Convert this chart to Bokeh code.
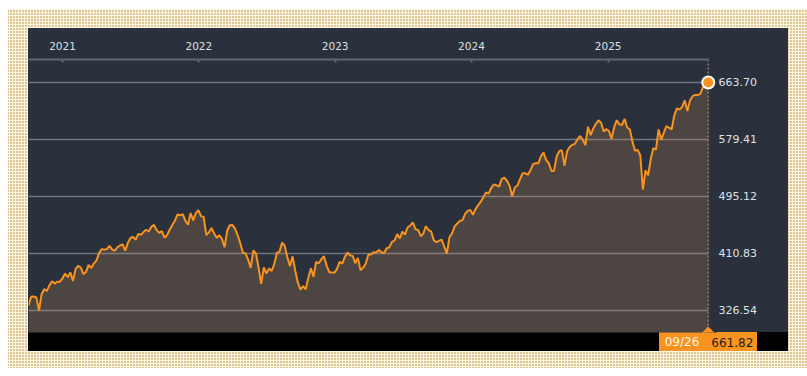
import numpy as np
import pandas as pd
from bokeh.plotting import figure
from bokeh.models import (Range1d, FixedTicker, DatetimeTickFormatter, PrintfTickFormatter,
                          Span, BoxAnnotation, Label, ColumnDataSource)
from bokeh.embed import file_html
from bokeh.resources import INLINE

# ---------------- data (weekly closes) ----------------
END_DATE = "2025-09-26"
prices_2020 = [333.8, 346.8, 347.3, 345.8, 326.5, 350.2, 358.1, 355.3, 363.7, 369.9,
               366.3, 369.2, 369.0, 373.9]
prices_2021 = [381.3, 375.7, 382.9, 370.1, 387.7, 392.6, 390.0, 380.4, 383.6, 394.1,
               389.5, 396.0, 400.6, 411.5, 417.3, 416.7, 417.3, 422.1, 416.6, 414.9,
               420.0, 422.6, 424.3, 414.9, 426.6, 433.7, 435.5, 431.3, 439.9, 438.5,
               442.5, 445.9, 443.4, 450.3, 453.1, 445.4, 441.4, 443.9, 434.2, 437.9,
               446.0, 453.1, 459.3, 468.5, 467.3, 468.9, 459.0, 453.4, 470.7, 459.9,
               470.6, 475.0]
prices_2022 = [466.1, 464.7, 438.0, 442.0, 448.7, 440.5, 434.2, 437.8, 432.2, 420.1,
               444.5, 452.7, 452.9, 447.6, 437.8, 426.0, 412.0, 411.3, 401.7, 389.6,
               415.3, 410.5, 389.8, 365.9, 390.1, 381.2, 388.7, 385.1, 395.1, 412.0,
               413.5, 427.1, 422.1, 405.3, 392.2, 406.6, 385.6, 368.0, 357.2, 362.8,
               357.6, 374.3, 389.0, 376.4, 398.5, 396.0, 402.3, 406.9, 393.3, 383.3,
               382.9, 382.4]
prices_2023 = [388.1, 398.5, 395.9, 405.7, 412.4, 408.0, 407.3, 396.4, 404.2, 385.9,
               390.0, 395.8, 409.4, 409.2, 412.5, 412.2, 415.9, 412.6, 411.6, 418.6,
               420.0, 427.9, 429.9, 439.5, 433.2, 443.3, 438.6, 449.3, 452.2, 456.9,
               446.8, 445.7, 436.5, 440.0, 451.2, 445.5, 443.4, 430.4, 427.5, 429.5,
               431.5, 421.2, 410.7, 434.7, 440.6, 450.8, 455.3, 459.1, 460.2, 469.3,
               473.7, 475.3]
prices_2024 = [467.9, 476.7, 482.4, 487.4, 494.4, 501.2, 499.5, 507.9, 512.9, 511.7,
               509.8, 521.2, 523.1, 518.4, 510.9, 495.2, 508.3, 511.3, 520.8, 529.5,
               529.4, 527.4, 534.0, 542.8, 544.5, 544.2, 554.6, 560.0, 549.0, 544.4,
               532.9, 533.0, 554.3, 562.1, 563.7, 540.4, 562.0, 568.3, 571.5, 573.0,
               579.6, 584.6, 579.0, 571.0, 598.2, 585.8, 595.5, 602.6, 607.8, 604.3,
               591.2, 595.0]
prices_2025 = [592.0, 580.5, 597.6, 608.0, 601.8, 600.8, 609.7, 597.2, 594.2, 575.9,
               562.8, 564.0, 555.7, 505.3, 533.9, 526.4, 550.6, 566.8, 564.3, 594.2,
               579.1, 589.4, 599.1, 597.0, 594.3, 614.9, 625.3, 623.6, 627.6, 637.1,
               621.7, 637.2, 643.4, 645.3, 645.1, 647.2, 657.4, 663.7, 661.82]

year_ticks = ["2021-01-01", "2022-01-01", "2023-01-01", "2024-01-01", "2025-01-01"]
price_ticks = [326.54, 410.83, 495.12, 579.41, 663.70]
last_date_label = "09/26"
last_value = 661.82
marker_value = 663.70

# ---------------- build ----------------
prices = prices_2020 + prices_2021 + prices_2022 + prices_2023 + prices_2024 + prices_2025
dates = pd.date_range(end=END_DATE, periods=len(prices), freq="W-FRI")
src = ColumnDataSource(dict(date=dates, price=prices))

ORANGE = "#f7931e"
PANEL = "#2a313c"
ms = lambda d: pd.Timestamp(d).value / 1e6

x_start = dates[0]
x_end = dates[-1] + pd.Timedelta(days=22)
y_lo, y_hi = 294.0, 697.7

p = figure(width=807, height=376, x_axis_type="datetime",
           x_axis_location="above", y_axis_location="right",
           x_range=Range1d(x_start, x_end), y_range=Range1d(y_lo, y_hi),
           min_border_left=28, min_border_right=91, min_border_top=59, min_border_bottom=44,
           toolbar_location=None, output_backend="svg")

p.border_fill_color = None
p.background_fill_color = PANEL
p.outline_line_color = None

bg = ", ".join([
    f"linear-gradient({ORANGE},{ORANGE}) 659px 332px / 98px 19px no-repeat",
    "linear-gradient(#000,#000) 28px 332px / 760px 19px no-repeat",
    f"linear-gradient({PANEL},{PANEL}) 28px 28px / 760px 323px no-repeat",
    "linear-gradient(#fff,#fff) 0 0 / 100% 9px no-repeat",
    "linear-gradient(#fff,#fff) 0 0 / 8px 100% no-repeat",
    "linear-gradient(#fff,#fff) 0 368px / 100% 8px no-repeat",
    "linear-gradient(90deg, #fdf8e6 1px, transparent 1px) 0 0 / 3px 3px",
    "linear-gradient(#fdf8e6 1px, transparent 1px) 0 0 / 3px 3px",
    "#dcc38f",
])
p.styles = {"background": bg}

# top (year) axis
xa = p.xaxis[0]
xa.ticker = FixedTicker(ticks=[ms(t) for t in year_ticks])
xa.formatter = DatetimeTickFormatter(years="%Y", months="%Y", days="%Y", hours="%Y",
                                     minutes="%Y", seconds="%Y", milliseconds="%Y",
                                     microseconds="%Y")
xa.bounds = (ms(dates[0]), ms(dates[-1]))
xa.axis_line_color = "#5f6772"
xa.axis_line_width = 2
xa.major_tick_line_color = "#5f6772"
xa.major_tick_line_width = 2
xa.major_tick_in = 3
xa.major_tick_out = 0
xa.minor_tick_line_color = None
xa.major_label_text_color = "#dde1e5"
xa.major_label_text_font = "DejaVu Sans"
xa.major_label_text_font_size = "10.5px"
xa.major_label_standoff = 10

# right (price) axis
ya = p.yaxis[0]
ya.ticker = FixedTicker(ticks=price_ticks)
ya.formatter = PrintfTickFormatter(format="%.2f")
ya.axis_line_color = None
ya.major_tick_line_color = None
ya.minor_tick_line_color = None
ya.major_tick_in = 0
ya.major_tick_out = 0
ya.minor_tick_in = 0
ya.minor_tick_out = 0
ya.major_label_standoff = 2
ya.major_label_text_color = "#dde1e5"
ya.major_label_text_font = "DejaVu Sans"
ya.major_label_text_font_size = "11px"

p.xgrid.grid_line_color = None
p.ygrid.grid_line_color = "#70767e"
p.ygrid.grid_line_width = 1.5

# mask beyond last date (keeps grid lines ending at the last date)
p.add_layout(BoxAnnotation(left=ms(dates[-1]), fill_color=PANEL, fill_alpha=1,
                           line_color=None, level="underlay"))
p.add_layout(Span(location=ms(dates[-1]), dimension="height", line_color="#8d7f70",
                  line_width=1.5, line_dash="2 2", level="underlay"))

p.varea(x="date", y1=0, y2="price", source=src, fill_color="#f0a060", fill_alpha=0.18)
p.line(x="date", y="price", source=src, line_color=ORANGE, line_width=2)

# pointer triangle on the bottom label
p.scatter(x=[dates[-1]], y=[y_lo], marker="square", angle=np.pi / 4, size=8.5,
          fill_color=ORANGE, line_color=None)
# end marker
p.scatter(x=[dates[-1]], y=[marker_value], size=12, fill_color=ORANGE,
          line_color="white", line_width=2)

# bottom value tag texts (placed in the lower side panel so they are not clipped)
p.add_layout(Label(x=ms(dates[-1]), y=y_lo, x_offset=-9, y_offset=-9.5,
                   text=last_date_label, text_align="right", text_baseline="middle",
                   text_color="#fff4e6", text_font="DejaVu Sans", text_font_size="12px"),
             "below")
p.add_layout(Label(x=ms(dates[-1]), y=y_lo, x_offset=3, y_offset=-9.5,
                   text=f"{last_value:.2f}", text_align="left", text_baseline="middle",
                   text_color="#1e1e1e", text_font="DejaVu Sans", text_font_size="12px"),
             "below")

open("out.html", "w").write(file_html(p, INLINE))
